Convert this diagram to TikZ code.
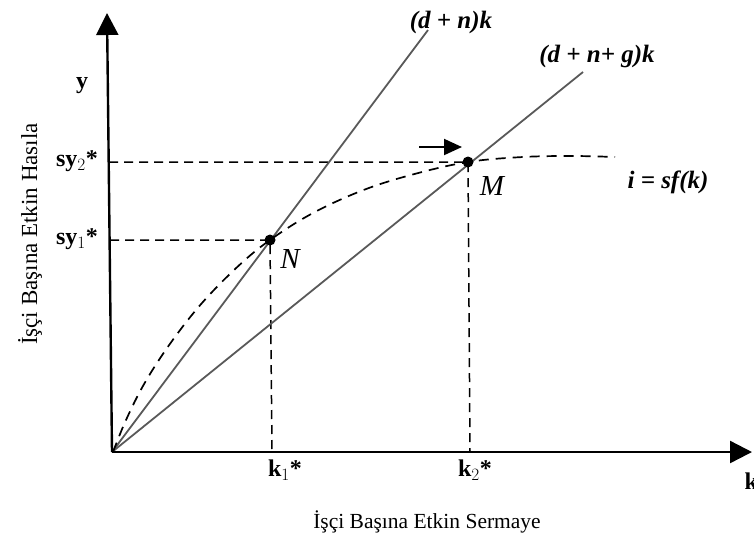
\documentclass[tikz,border=0pt]{standalone}
\usepackage{fontspec}
\setmainfont{Liberation Serif}
\usetikzlibrary{arrows.meta}
\begin{document}
\begin{tikzpicture}[x=1pt,y=-1pt,
  axis/.style={line width=2.4pt,-{Triangle[length=22pt,width=22pt]}},
  guide/.style={line width=1.5pt,dash pattern=on 9pt off 6pt},
  ray/.style={line width=1.8pt,draw=black!65},
  curve/.style={line width=1.7pt,dash pattern=on 10pt off 7pt},
  lbl/.style={font=\fontsize{24}{26}\selectfont\bfseries},
  flbl/.style={font=\fontsize{25}{27}\selectfont\bfseries\itshape},
  pt/.style={circle,fill=black,inner sep=0pt,minimum size=11pt},
  ptlbl/.style={font=\fontsize{29}{31}\selectfont\itshape},
  ttl/.style={font=\fontsize{21.5}{24}\selectfont}]
\useasboundingbox (0,0) rectangle (754,542);
\coordinate (O) at (112,452);
\coordinate (ytip) at (107,13);
\coordinate (xtip) at (752,452);
\coordinate (N) at (270,240);
\coordinate (M) at (468,162);
\coordinate (k1) at (272,452);
\coordinate (k2) at (470,452);
\coordinate (s1) at (110,240);
\coordinate (s2) at (109,162);
\coordinate (L1) at (428,30);
\coordinate (L2) at (583,72);
\coordinate (ar1) at (419,147);
\coordinate (ar2) at (462,147);
% guides
\draw[guide] (s2) -- (M) -- (k2);
\draw[guide] (s1) -- (N) -- (k1);
% rays
\draw[ray] (O) -- (L1);
\draw[ray] (O) -- (L2);
% curve
\draw[curve] plot[smooth,tension=0.6] coordinates {(113,452) (126,420) (145,382.4) (171,342.4) (202,303) (238,266.3) (270,240) (313,213) (363,190.2) (413,174.4) (468,162) (523,157) (573,156) (615,157)};
% axes
\draw[axis] (O) -- (ytip);
\draw[axis] (O) -- (xtip);
% points
\node[pt] (Np) at (N) {};
\node[pt] (Mp) at (M) {};
\node[ptlbl] (Nl) at (290,259) {N};
\node[ptlbl] (Ml) at (492,186) {M};
\draw[line width=2pt,-{Triangle[length=18pt,width=16pt]}] (ar1) -- (ar2);
% labels
\node[flbl] (l1) at (451,22) {(d + n)k};
\node[flbl] (l2) at (597,56) {(d + n+ g)k};
\node[flbl] (l3) at (668,182) {i = sf(k)};
\node[lbl] (ly) at (82,86) {y};
\node[lbl] (lsy2) at (77,161) {sy$_2$*};
\node[lbl] (lsy1) at (77,239) {sy$_1$*};
\node[lbl] (lk1) at (285,470) {k$_1$*};
\node[lbl] (lk2) at (475,470) {k$_2$*};
\node[lbl,anchor=west] (lk) at (741,481) {k};
\node[ttl] (tx) at (427,522) {İşçi Başına Etkin Sermaye};
\node[ttl,rotate=90,font=\fontsize{23}{25}\selectfont] (ty) at (30,234) {İşçi Başına Etkin Hasıla};
\end{tikzpicture}
\end{document}
